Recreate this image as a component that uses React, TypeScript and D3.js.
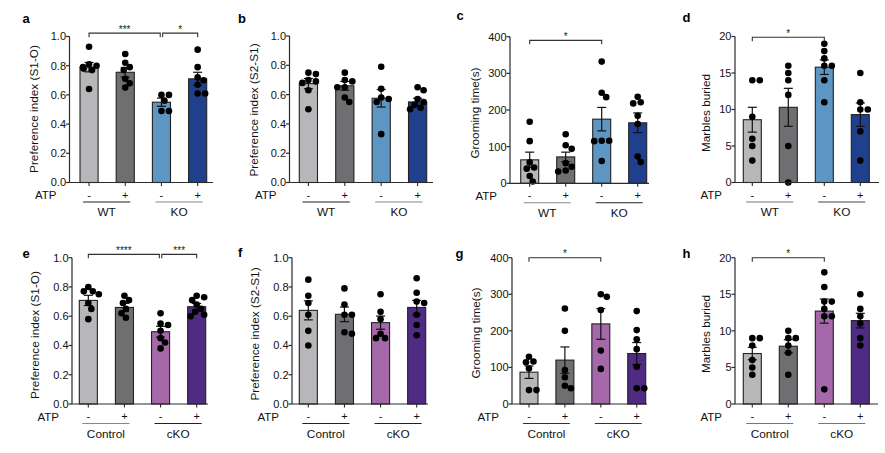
import React from "react";
import * as d3 from "d3";

// ---------- data ----------
const ATP_LABELS = ["-", "+", "-", "+"];
const GROUPS_TOP = ["WT", "KO"];
const GROUPS_BOTTOM = ["Control", "cKO"];
const COLORS_TOP = ["#b7b6b9", "#6f6f72", "#5d96c3", "#203f8c"];
const COLORS_BOTTOM = ["#b7b6b9", "#6f6f72", "#a568a8", "#4f2b84"];

const TICKS_INDEX = [0, 0.2, 0.4, 0.6, 0.8, 1.0];
const TICKS_GROOM = [0, 100, 200, 300, 400];
const TICKS_MARBLE = [0, 5, 10, 15, 20];

// panel a
const aMeans = [0.79, 0.755, 0.55, 0.71];
const aSems = [0.032, 0.033, 0.028, 0.045];
const aPoints = [
  [0.93, 0.81, 0.8, 0.79, 0.78, 0.77, 0.64],
  [0.88, 0.82, 0.79, 0.77, 0.71, 0.68, 0.65],
  [0.6, 0.6, 0.56, 0.49, 0.49],
  [0.91, 0.79, 0.72, 0.7, 0.67, 0.61, 0.61],
];
// panel b
const bMeans = [0.675, 0.66, 0.575, 0.55];
const bSems = [0.035, 0.03, 0.06, 0.025];
const bPoints = [
  [0.75, 0.74, 0.7, 0.69, 0.68, 0.63, 0.5],
  [0.75, 0.7, 0.69, 0.65, 0.65, 0.58, 0.55],
  [0.79, 0.64, 0.58, 0.57, 0.55, 0.33],
  [0.65, 0.63, 0.57, 0.55, 0.53, 0.51, 0.5],
];
// panel c
const cMeans = [64, 72, 175, 165];
const cSems = [21, 13, 32, 27];
const cPoints = [
  [168, 115, 57, 43, 40, 20, 5],
  [134, 104, 94, 55, 45, 35, 32],
  [332, 247, 235, 116, 116, 115, 61],
  [236, 221, 218, 184, 162, 73, 58],
];
// panel d
const dMeans = [8.6, 10.3, 15.8, 9.3];
const dSems = [1.7, 2.6, 1.0, 1.6];
const dPoints = [
  [14, 14, 9, 6, 5, 3],
  [16, 15, 14, 12, 5, 0],
  [19, 18, 17, 16, 16, 14, 11],
  [15, 11, 10, 10, 7, 3],
];
// panel e
const eMeans = [0.708, 0.66, 0.494, 0.665];
const eSems = [0.035, 0.028, 0.037, 0.022];
const ePoints = [
  [0.8, 0.77, 0.77, 0.75, 0.69, 0.65, 0.58],
  [0.74, 0.71, 0.69, 0.65, 0.62, 0.59],
  [0.62, 0.55, 0.54, 0.5, 0.45, 0.42, 0.38],
  [0.74, 0.73, 0.71, 0.68, 0.65, 0.63, 0.61, 0.6],
];
// panel f
const fMeans = [0.64, 0.613, 0.556, 0.66];
const fSems = [0.065, 0.05, 0.045, 0.048];
const fPoints = [
  [0.85, 0.74, 0.69, 0.61, 0.5, 0.4],
  [0.79, 0.68, 0.61, 0.61, 0.49, 0.48],
  [0.75, 0.63, 0.58, 0.48, 0.45, 0.45],
  [0.86, 0.76, 0.7, 0.69, 0.61, 0.54, 0.47],
];
// panel g
const gMeans = [87, 120, 219, 138];
const gSems = [17, 36, 42, 30];
const gPoints = [
  [129, 116, 114, 97, 38, 38],
  [261, 200, 93, 73, 50, 43],
  [300, 293, 257, 146, 96],
  [254, 202, 177, 150, 102, 43, 43],
];
// panel h
const hMeans = [6.9, 7.9, 12.7, 11.4];
const hSems = [0.85, 0.9, 1.65, 1.0];
const hPoints = [
  [9, 9, 8, 6, 5, 4],
  [10, 9, 9, 8, 7, 4],
  [18, 16, 14, 14, 13, 12, 12, 2],
  [15, 13, 12, 11, 9, 8],
];

// significance brackets: [from, to, label, level]
const aBrackets = [[0, 2, "***", 1.023], [2, 3, "*", 1.023]];
const cBrackets = [[0, 2, "*", 390]];
const dBrackets = [[0, 2, "*", 19.9]];
const eBrackets = [[0, 2, "****", 1.023], [2, 3, "***", 1.023]];
const gBrackets = [[0, 2, "*", 400]];
const hBrackets = [[0, 2, "*", 20]];

// ---------- layout ----------
const FONT = "'Liberation Sans', Arial, Helvetica, sans-serif";
const AXIS = "#2b2b2b";

type Cfg = {
  letter: string; title: string; max: number; ticks: number[]; fmt: string;
  means: number[]; sems: number[]; points: number[][]; colors: string[];
  groups: string[]; lineColors: string[]; brackets: any[];
  axisX: number; bandL: number; bandR: number; axisEnd: number; yTop: number; y0: number;
  letterX: number; letterY: number; titleX: number; titleY: number;
};

const PANELS: Cfg[] = [
  { letter: "a", title: "Preference index (S1-O)", max: 1, ticks: TICKS_INDEX, fmt: ".1f",
    means: aMeans, sems: aSems, points: aPoints, colors: COLORS_TOP, groups: GROUPS_TOP,
    lineColors: ["#222", "#888"], brackets: aBrackets,
    axisX: 69.5, bandL: 80, bandR: 206.7, axisEnd: 213, yTop: 36.5, y0: 182.5,
    letterX: 22.5, letterY: 22.5, titleX: 33.5, titleY: 109 },
  { letter: "b", title: "Preference index (S2-S1)", max: 1, ticks: TICKS_INDEX, fmt: ".1f",
    means: bMeans, sems: bSems, points: bPoints, colors: COLORS_TOP, groups: GROUPS_TOP,
    lineColors: ["#222", "#888"], brackets: [],
    axisX: 289.5, bandL: 299.3, bandR: 426.7, axisEnd: 433, yTop: 36, y0: 182.5,
    letterX: 238, letterY: 22.5, titleX: 253.5, titleY: 110 },
  { letter: "c", title: "Grooming time(s)", max: 400, ticks: TICKS_GROOM, fmt: "d",
    means: cMeans, sems: cSems, points: cPoints, colors: COLORS_TOP, groups: GROUPS_TOP,
    lineColors: ["#888", "#222"], brackets: cBrackets,
    axisX: 510, bandL: 520.7, bandR: 646.7, axisEnd: 649, yTop: 36.7, y0: 183.3,
    letterX: 456.5, letterY: 20, titleX: 475, titleY: 113 },
  { letter: "d", title: "Marbles buried", max: 20, ticks: TICKS_MARBLE, fmt: "d",
    means: dMeans, sems: dSems, points: dPoints, colors: COLORS_TOP, groups: GROUPS_TOP,
    lineColors: ["#777", "#444"], brackets: dBrackets,
    axisX: 735, bandL: 743.3, bandR: 869.3, axisEnd: 879, yTop: 36.5, y0: 182.5,
    letterX: 682.5, letterY: 21.5, titleX: 706, titleY: 113 },
  { letter: "e", title: "Preference index (S1-O)", max: 1, ticks: TICKS_INDEX, fmt: ".1f",
    means: eMeans, sems: eSems, points: ePoints, colors: COLORS_BOTTOM, groups: GROUPS_BOTTOM,
    lineColors: ["#888", "#222"], brackets: eBrackets,
    axisX: 72, bandL: 79.3, bandR: 205.7, axisEnd: 208, yTop: 257.7, y0: 404,
    letterX: 22.5, letterY: 257.5, titleX: 35, titleY: 335 },
  { letter: "f", title: "Preference index (S2-S1)", max: 1, ticks: TICKS_INDEX, fmt: ".1f",
    means: fMeans, sems: fSems, points: fPoints, colors: COLORS_BOTTOM, groups: GROUPS_BOTTOM,
    lineColors: ["#222", "#222"], brackets: [],
    axisX: 292, bandL: 299.3, bandR: 425.7, axisEnd: 428, yTop: 257.7, y0: 404,
    letterX: 238, letterY: 257, titleX: 255, titleY: 334 },
  { letter: "g", title: "Grooming time(s)", max: 400, ticks: TICKS_GROOM, fmt: "d",
    means: gMeans, sems: gSems, points: gPoints, colors: COLORS_BOTTOM, groups: GROUPS_BOTTOM,
    lineColors: ["#333", "#333"], brackets: gBrackets,
    axisX: 512, bandL: 520, bandR: 645.7, axisEnd: 647, yTop: 257.7, y0: 404,
    letterX: 455.5, letterY: 257.5, titleX: 476, titleY: 333 },
  { letter: "h", title: "Marbles buried", max: 20, ticks: TICKS_MARBLE, fmt: "d",
    means: hMeans, sems: hSems, points: hPoints, colors: COLORS_BOTTOM, groups: GROUPS_BOTTOM,
    lineColors: ["#777", "#777"], brackets: hBrackets,
    axisX: 735, bandL: 743.3, bandR: 869.3, axisEnd: 878, yTop: 257.7, y0: 404,
    letterX: 682.5, letterY: 257.5, titleX: 706, titleY: 334 },
];

const R = 3.3;

function swarm(vals: number[], y: (v: number) => number, maxOff: number) {
  const placed: { x: number; y: number }[] = [];
  const sorted = [...vals].sort((p, q) => q - p);
  const minD = 6.2;
  for (const v of sorted) {
    const py = y(v);
    let best = 0;
    for (let k = 0; k < 20; k++) {
      const cands = k === 0 ? [0] : [k * 1.5, -k * 1.5];
      let ok = -999;
      for (const c of cands) {
        if (Math.abs(c) > maxOff) continue;
        if (placed.every((p) => (p.x - c) ** 2 + (p.y - py) ** 2 >= minD * minD)) { ok = c; break; }
      }
      if (ok !== -999) { best = ok; break; }
      if (k * 1.5 > maxOff) { best = (placed.length % 2 ? 1 : -1) * maxOff * 0.5; break; }
    }
    placed.push({ x: best, y: py });
  }
  return placed;
}

function Panel({ c }: { c: Cfg }) {
  const y = d3.scaleLinear().domain([0, c.max]).range([c.y0, c.yTop]);
  const x = d3.scaleBand<number>().domain(d3.range(4)).range([c.bandL, c.bandR]).paddingInner(0.5).paddingOuter(0);
  const bw = x.bandwidth();
  const cx = (i: number) => (x(i) as number) + bw / 2;
  const fmt = d3.format(c.fmt);
  return (
    <g fontFamily={FONT}>
      <text x={c.letterX} y={c.letterY} fontSize={13} fontWeight="bold" fill="#000">{c.letter}</text>
      <text transform={`translate(${c.titleX},${c.titleY}) rotate(-90)`} textAnchor="middle" dominantBaseline="central" fontSize={11.8} fill="#111">{c.title}</text>
      {/* bars */}
      {c.means.map((m, i) => (
        <rect key={"b" + i} x={x(i)} y={y(m)} width={bw} height={c.y0 - y(m)} fill={c.colors[i]} stroke="#222" strokeWidth={1.1} />
      ))}
      {/* error bars */}
      {c.means.map((m, i) => (
        <g key={"e" + i} stroke="#111" strokeWidth={1.2}>
          <line x1={cx(i)} x2={cx(i)} y1={y(m - c.sems[i])} y2={y(m + c.sems[i])} />
          <line x1={cx(i) - 4.5} x2={cx(i) + 4.5} y1={y(m + c.sems[i])} y2={y(m + c.sems[i])} />
          <line x1={cx(i) - 4.5} x2={cx(i) + 4.5} y1={y(m - c.sems[i])} y2={y(m - c.sems[i])} />
        </g>
      ))}
      {/* points */}
      {c.points.map((vals, i) =>
        swarm(vals, y, bw / 2 + 2).map((p, j) => (
          <circle key={`p${i}-${j}`} cx={cx(i) + p.x} cy={p.y} r={R} fill="#000" />
        ))
      )}
      {/* y axis */}
      <line x1={c.axisX} x2={c.axisX} y1={c.yTop} y2={c.y0} stroke={AXIS} strokeWidth={1.2} />
      {c.ticks.map((t) => (
        <g key={"t" + t}>
          <line x1={c.axisX - 3.5} x2={c.axisX} y1={y(t)} y2={y(t)} stroke={AXIS} strokeWidth={1.2} />
          <text x={c.axisX - 3.5} y={y(t)} dy="0.36em" textAnchor="end" fontSize={11} fill="#111">{fmt(t)}</text>
        </g>
      ))}
      {/* x axis */}
      <line x1={c.axisX} x2={c.axisEnd} y1={c.y0} y2={c.y0} stroke={AXIS} strokeWidth={1.2} />
      {c.means.map((_, i) => (
        <line key={"xt" + i} x1={cx(i)} x2={cx(i)} y1={c.y0} y2={c.y0 + 3.5} stroke={AXIS} strokeWidth={1.1} />
      ))}
      {ATP_LABELS.map((l, i) => (
        <text key={"al" + i} x={cx(i)} y={c.y0 + 16} textAnchor="middle" fontSize={11} fill="#111">{l}</text>
      ))}
      <text x={c.axisX - 13} y={c.y0 + 16.5} textAnchor="end" fontSize={11.5} fill="#111">ATP</text>
      {c.groups.map((g, k) => {
        const x1 = cx(2 * k) - 6;
        const x2 = cx(2 * k + 1) + 5;
        return (
          <g key={"g" + k}>
            <line x1={x1} x2={x2} y1={c.y0 + 19.5} y2={c.y0 + 19.5} stroke={c.lineColors[k]} strokeWidth={1.1} />
            <text x={(x1 + x2) / 2} y={c.y0 + 33.5} textAnchor="middle" fontSize={11.8} fill="#111">{g}</text>
          </g>
        );
      })}
      {/* brackets */}
      {c.brackets.map((b: any, k: number) => {
        const by = y(b[3]);
        const x1 = cx(b[0]) + (k > 0 ? 1.2 : 0);
        const x2 = cx(b[1]) - (k === 0 && c.brackets.length > 1 ? 1.2 : 0);
        return (
          <g key={"br" + k}>
            <path d={`M${x1},${by + 4}V${by}H${x2}V${by + 4}`} fill="none" stroke="#333" strokeWidth={1.1} />
            <text x={(x1 + x2) / 2} y={by - 0.5} textAnchor="middle" fontSize={10} fill="#222">{b[2]}</text>
          </g>
        );
      })}
    </g>
  );
}

export default function App() {
  return (
    <svg width={885} height={453} style={{ position: "absolute", left: 0, top: 0, background: "#fff" }}>
      <rect width={885} height={453} fill="#fff" />
      {PANELS.map((p) => (
        <Panel key={p.letter} c={p} />
      ))}
    </svg>
  );
}
